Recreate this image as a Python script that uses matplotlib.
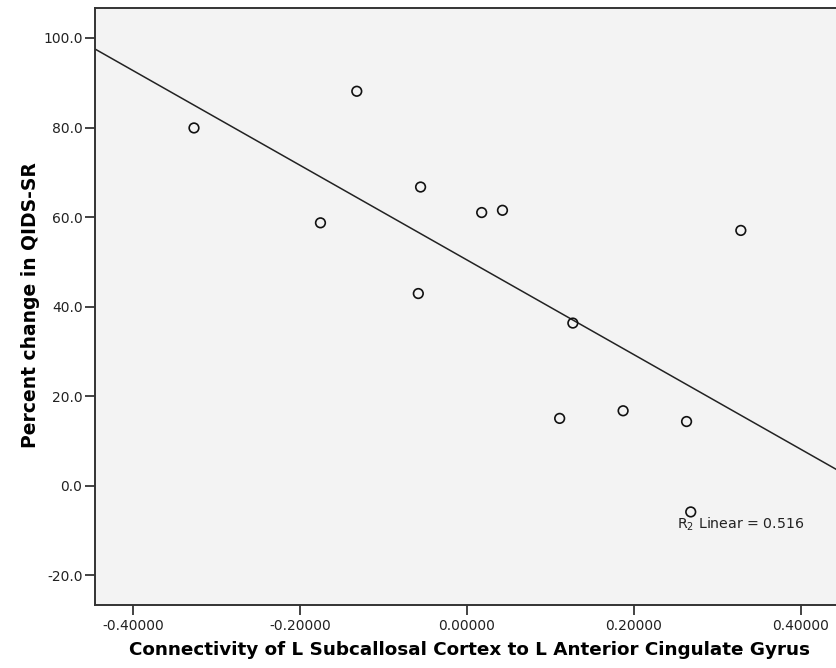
import numpy as np
import matplotlib
matplotlib.use('Agg')
import matplotlib.pyplot as plt
from matplotlib.ticker import FormatStrFormatter

plt.rcParams['axes.unicode_minus'] = False
plt.rcParams['mathtext.default'] = 'regular'

# connectivity values and percent change
connectivity = [-0.327, -0.132, -0.1755, -0.0556, 0.0176, 0.0425, -0.0583,
                0.1268, 0.328, 0.111, 0.187, 0.263, 0.268]
pct_change = [79.9, 88.1, 58.7, 66.7, 61.0, 61.5, 42.9,
              36.3, 57.0, 15.0, 16.7, 14.3, -5.9]
x_ticks = [-0.4, -0.2, 0.0, 0.2, 0.4]
y_ticks = [-20, 0, 20, 40, 60, 80, 100]
r2_label = 'R$_2$ Linear = 0.516'

x = np.array(connectivity)
y = np.array(pct_change)
slope, intercept = np.polyfit(x, y, 1)

fig = plt.figure(figsize=(8.36, 6.68), dpi=100)
ax = fig.add_axes([0.1136, 0.0943, 0.8864, 0.8937])
ax.set_facecolor('#f3f3f3')

xlim = (-0.4456, 0.442)
ax.set_xlim(xlim)
ax.set_ylim(-26.7, 106.7)

xl = np.array(xlim)
ax.plot(xl, intercept + slope * xl, color='#222222', lw=1.1, zorder=2)
ax.scatter(x, y, s=48, facecolors='none', edgecolors='#111111',
           linewidths=1.2, zorder=3)

ax.text(0.251, -9.6, r2_label, fontsize=10.2, color='#222222', zorder=4)

ax.set_xticks(x_ticks)
ax.set_yticks(y_ticks)
ax.xaxis.set_major_formatter(FormatStrFormatter('%.5f'))
ax.yaxis.set_major_formatter(FormatStrFormatter('%.1f'))
ax.tick_params(axis='both', direction='out', length=7, width=1.2,
               color='#222222', labelsize=10, labelcolor='#222222')
ax.tick_params(axis='x', pad=3)
ax.tick_params(axis='y', pad=2)

for side in ['left', 'bottom', 'top']:
    ax.spines[side].set_color('#333333')
    ax.spines[side].set_linewidth(1.4)
ax.spines['right'].set_visible(False)

fig.text(0.562, 0.027, 'Connectivity of L Subcallosal Cortex to L Anterior Cingulate Gyrus',
         ha='center', va='center', fontsize=13.2, fontweight='bold')
fig.text(0.036, 0.543, 'Percent change in QIDS-SR', rotation=90,
         ha='center', va='center', fontsize=13.5, fontweight='bold')

plt.savefig('out.png', dpi=100)
